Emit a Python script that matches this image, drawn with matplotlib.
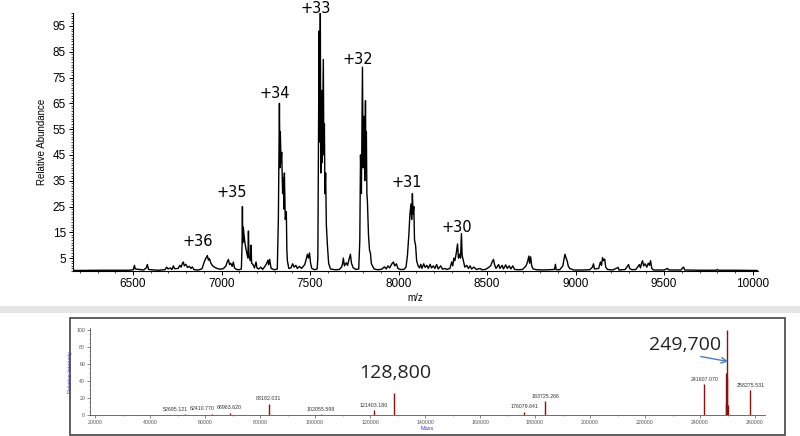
import matplotlib
matplotlib.use("Agg")
import matplotlib.pyplot as plt
from matplotlib.ticker import MultipleLocator
from matplotlib.patches import Rectangle

# ---- native ESI spectrum (m/z vs relative abundance) ----
mz = [6160, 6320, 6480, 6502, 6508, 6513, 6560, 6575, 6581, 6588, 6640, 6680, 6690, 6698,
      6710, 6720, 6728, 6735, 6755, 6765, 6772, 6778, 6784, 6790, 6798, 6808, 6818, 6828,
      6835, 6845, 6870, 6890, 6900, 6908, 6914, 6920, 6926, 6932, 6940, 6950, 6962, 6975,
      6992, 7010, 7025, 7032, 7039, 7045, 7052, 7060, 7067, 7073, 7085, 7100, 7112, 7116,
      7118, 7120, 7123, 7127, 7132, 7138, 7144, 7149, 7152, 7155, 7162, 7167, 7170, 7178,
      7186, 7195, 7200, 7210, 7222, 7232, 7245, 7255, 7262, 7266, 7272, 7280, 7298, 7315,
      7321, 7327, 7330, 7332, 7336, 7340, 7345, 7349, 7353, 7355, 7360, 7366, 7369, 7372,
      7380, 7392, 7402, 7410, 7420, 7428, 7440, 7452, 7470, 7478, 7485, 7491, 7497, 7503,
      7510, 7525, 7540, 7544, 7548, 7551, 7554, 7558, 7561, 7565, 7569, 7575, 7578, 7581,
      7584, 7588, 7592, 7598, 7605, 7615, 7640, 7665, 7678, 7684, 7688, 7694, 7704, 7712,
      7720, 7728, 7734, 7744, 7760, 7775, 7781, 7785, 7790, 7796, 7800, 7805, 7809, 7813,
      7816, 7818, 7821, 7824, 7830, 7836, 7841, 7846, 7852, 7862, 7880, 7905, 7920, 7930,
      7940, 7950, 7960, 7971, 7978, 7988, 7996, 8010, 8030, 8042, 8050, 8058, 8064, 8070,
      8074, 8078, 8082, 8086, 8090, 8096, 8102, 8110, 8118, 8125, 8132, 8142, 8150, 8160,
      8168, 8178, 8186, 8196, 8205, 8215, 8224, 8238, 8248, 8262, 8272, 8290, 8300, 8306,
      8312, 8318, 8326, 8333, 8338, 8344, 8350, 8355, 8359, 8366, 8374, 8385, 8394, 8404,
      8412, 8425, 8440, 8460, 8470, 8490, 8505, 8520, 8528, 8536, 8542, 8550, 8565, 8572,
      8585, 8592, 8605, 8614, 8625, 8634, 8645, 8655, 8680, 8700, 8720, 8728, 8736, 8740,
      8746, 8752, 8760, 8780, 8820, 8850, 8880, 8886, 8890, 8910, 8928, 8934, 8940, 8946,
      8952, 8958, 8966, 8990, 9040, 9080, 9095, 9101, 9106, 9130, 9140, 9146, 9152, 9158,
      9164, 9170, 9180, 9210, 9240, 9245, 9280, 9292, 9299, 9305, 9318, 9340, 9360, 9366,
      9372, 9378, 9384, 9392, 9402, 9410, 9417, 9423, 9430, 9440, 9500, 9513, 9519, 9526,
      9595, 9604, 9610, 9616, 9700, 9795, 9801, 9806, 9900, 10030]
abundance = [0.2, 0.3, 0.3, 0.5, 2.2, 0.8, 0.4, 1.2, 2.5, 0.6, 0.3, 0.5, 1.5, 0.8,
             1.2, 0.6, 2.0, 0.9, 1.0, 2.2, 1.5, 2.8, 3.5, 2.0, 2.6, 1.4, 1.8, 1.0,
             1.6, 0.5, 0.4, 0.9, 3.0, 4.5, 5.2, 6.0, 4.2, 4.8, 3.0, 2.0, 1.4, 1.0,
             0.7, 0.9, 2.0, 3.5, 4.5, 2.5, 3.0, 1.8, 3.5, 1.2, 0.6, 0.5, 0.8, 10.0,
             25.0, 11.0, 17.0, 14.0, 11.0, 8.5, 6.5, 5.0, 15.5, 6.0, 4.0, 10.0, 3.0, 2.5,
             1.2, 3.5, 1.2, 0.8, 1.5, 0.6, 1.8, 3.0, 4.2, 2.4, 4.5, 1.0, 0.5, 0.8,
             20.0, 65.0, 40.0, 54.0, 42.0, 46.0, 30.0, 36.0, 24.0, 38.0, 20.0, 23.0, 8.0, 4.0,
             1.0, 1.2, 2.8, 1.5, 2.2, 1.0, 1.8, 1.0, 2.5, 4.5, 6.5, 5.0, 7.0, 3.0,
             1.0, 0.5, 0.8, 5.0, 60.0, 93.0, 50.0, 100.0, 38.0, 70.0, 42.0, 82.0, 45.0, 57.0,
             30.0, 38.0, 18.0, 10.0, 3.0, 0.8, 0.5, 0.6, 1.5, 3.0, 5.0, 2.0, 3.2, 2.2,
             4.5, 6.5, 3.0, 1.2, 0.6, 0.8, 12.0, 45.0, 30.0, 79.0, 40.0, 60.0, 35.0, 66.0,
             38.0, 54.0, 30.0, 27.0, 14.0, 8.0, 7.0, 3.0, 2.0, 0.8, 0.5, 0.7, 1.6, 0.8,
             2.0, 1.2, 2.6, 3.5, 2.0, 2.8, 1.0, 0.6, 0.6, 1.5, 6.0, 14.0, 22.0, 26.0,
             20.0, 30.0, 22.0, 25.0, 12.0, 10.0, 4.0, 2.0, 1.2, 2.6, 1.0, 2.8, 1.4, 2.2,
             1.0, 2.6, 1.2, 2.0, 1.0, 2.5, 0.8, 2.0, 0.7, 1.0, 0.6, 1.0, 3.5, 2.0,
             5.0, 4.0, 7.0, 10.5, 5.0, 6.5, 5.0, 14.5, 6.0, 4.0, 1.5, 2.2, 1.0, 2.0,
             0.8, 1.5, 0.6, 1.0, 0.5, 0.6, 1.2, 2.0, 3.5, 4.5, 2.5, 1.0, 2.5, 1.0,
             2.2, 0.8, 2.4, 1.0, 2.0, 0.8, 2.0, 0.6, 0.5, 0.6, 2.0, 3.5, 5.8, 3.0,
             5.5, 2.0, 0.8, 0.5, 0.4, 0.5, 0.6, 2.6, 0.5, 0.5, 2.0, 4.5, 6.5, 5.0,
             4.0, 2.0, 1.0, 0.4, 0.4, 0.5, 1.5, 2.8, 0.8, 1.0, 3.5, 2.2, 5.2, 4.0,
             4.6, 1.5, 0.6, 0.4, 1.4, 0.4, 0.6, 1.8, 2.5, 1.0, 0.5, 0.6, 2.5, 1.2,
             3.0, 4.0, 2.0, 2.8, 1.5, 3.0, 2.2, 4.0, 1.0, 0.4, 0.4, 0.8, 1.0, 0.4,
             0.4, 1.2, 1.5, 0.4, 0.3, 0.3, 0.6, 0.3, 0.3, 0.2]

charge_labels = ["+36", "+35", "+34", "+33", "+32", "+31", "+30"]
charge_mz = [6865, 7056, 7303, 7534, 7770, 8045, 8331]
charge_y = [11.6, 30.6, 68.7, 101.6, 81.8, 34.5, 17.0]

# ---- deconvoluted spectrum (mass vs relative intensity) ----
mass = [52695.121, 62410.770, 68963.620, 83182.031, 102055.598, 121403.180, 128800,
        176079.641, 183725.266, 241607.070, 249400, 249550, 249700, 249850, 250000,
        258275.531]
intensity = [0.8, 1.0, 2.5, 13.5, 0.8, 5.5, 26, 4, 16, 36, 14, 50, 100, 45, 12, 29]
mass_labels = {52695.121: "52695.121", 62410.770: "62410.770", 68963.620: "68963.620",
               83182.031: "83182.031", 102055.598: "102055.598", 121403.180: "121403.180",
               176079.641: "176079.641", 183725.266: "183725.266",
               241607.070: "241607.070", 258275.531: "258275.531"}
label_shift = {52695.121: -7, 62410.770: -6.5}

plt.rcParams['font.family'] = ['Liberation Sans', 'DejaVu Sans']

fig = plt.figure(figsize=(8, 4.36), dpi=100)

# top panel
ax = fig.add_axes([0.091, 0.3784, 0.8565, 0.5917])
ax.plot(mz, abundance, color='black', lw=1.0)
ax.set_xlim(6160, 10030)
ax.set_ylim(0, 100)
ax.spines['top'].set_visible(False)
ax.spines['right'].set_visible(False)
ax.xaxis.set_major_locator(MultipleLocator(500))
ax.xaxis.set_minor_locator(MultipleLocator(100))
ax.set_yticks([5, 15, 25, 35, 45, 55, 65, 75, 85, 95])
ax.yaxis.set_minor_locator(MultipleLocator(1))
ax.tick_params(axis='both', which='major', labelsize=8.5, length=3, width=0.7, pad=2)
ax.tick_params(axis='both', which='minor', length=1.5, width=0.5)
ax.set_xlabel('m/z', fontsize=7, labelpad=2)
ax.set_ylabel('Relative Abundance', fontsize=7, labelpad=4)
for lab, x, y in zip(charge_labels, charge_mz, charge_y):
    ax.text(x, y, lab, fontsize=10.5, ha='center', va='center',
            family='DejaVu Sans', clip_on=False)

# separator band
fig.patches.append(Rectangle((0, 1 - 313 / 436), 1, 7 / 436, transform=fig.transFigure,
                             facecolor='#e4e4e4', edgecolor='none'))
# frame around the lower panel
fig.patches.append(Rectangle((70 / 800, 1 / 436), 715 / 800, 117 / 436,
                             transform=fig.transFigure, facecolor='none',
                             edgecolor='#444444', lw=1.2))

# bottom panel
bx = fig.add_axes([0.1125, 0.048, 0.8438, 0.1989])
bx.vlines(mass, 0, intensity, color='#8b1010', lw=1.0)
bx.set_xlim(18180, 263640)
bx.set_ylim(0, 102)
bx.spines['top'].set_visible(False)
bx.spines['right'].set_visible(False)
for s in ('left', 'bottom'):
    bx.spines[s].set_color('#555555')
    bx.spines[s].set_linewidth(0.6)
bx.xaxis.set_major_locator(MultipleLocator(20000))
bx.xaxis.set_minor_locator(MultipleLocator(10000))
bx.yaxis.set_major_locator(MultipleLocator(20))
bx.yaxis.set_minor_locator(MultipleLocator(5))
bx.tick_params(axis='both', which='major', labelsize=3.8, length=2, width=0.5,
               colors='#555555', pad=1.5)
bx.tick_params(axis='both', which='minor', length=1, width=0.4, colors='#555555')
bx.set_xlabel('Mass', fontsize=4, color='#3a3ac8', labelpad=1)
bx.set_ylabel('Relative Intensity', fontsize=4, color='#3a3ac8', labelpad=2)

for m, h in zip(mass, intensity):
    if m in mass_labels:
        bx.annotate(mass_labels[m], (m, h), xytext=(label_shift.get(m, 0), 2),
                    textcoords='offset points', ha='center', va='bottom',
                    fontsize=3.8, color='#333333')

bx.text(129090, 49.4, '128,800', fontsize=14, ha='center', va='center',
        family='Open Sans', color='#222222')
bx.text(234545, 82.4, '249,700', fontsize=14, ha='center', va='center',
        family='Open Sans', color='#222222')
bx.annotate('', xy=(251270, 62.4), xytext=(239270, 69.4),
            arrowprops=dict(arrowstyle='->', color='#4a7ebb', lw=1.0))

fig.savefig('out.png', dpi=100)
